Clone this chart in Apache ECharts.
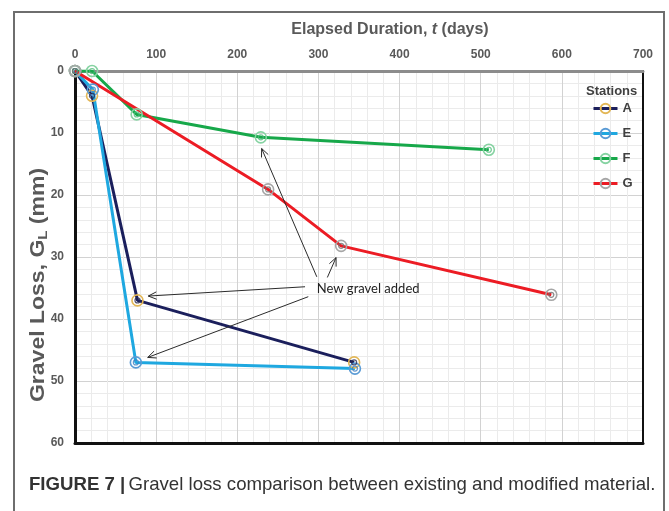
<!DOCTYPE html>
<html>
<head>
<meta charset="utf-8">
<script src="https://cdn.jsdelivr.net/npm/echarts@6/dist/echarts.min.js"></script>
<style>
  html, body { margin: 0; padding: 0; background: #fff; }
  #chart { width: 669px; height: 511px; }
</style>
</head>
<body>
<div id="chart"></div>
<script>
// Elapsed duration (days) and gravel loss (mm) per station
const stationNames = ['A', 'E', 'F', 'G'];
const daysA = [0, 21, 77, 344];
const lossA = [0, 4, 37, 47];
const daysE = [0, 22, 75, 345];
const lossE = [0, 3, 47, 48];
const daysF = [0, 21, 76, 229, 510];
const lossF = [0, 0, 7, 10.7, 12.7];
const daysG = [0, 238, 328, 587];
const lossG = [0, 19.1, 28.2, 36.1];

// Axis ticks
const xTicks = [0, 100, 200, 300, 400, 500, 600, 700];
const yTicks = [0, 10, 20, 30, 40, 50, 60];

// Annotation: points where new gravel was added (arrow start -> arrow tip), in data units
const noteText = 'New gravel added';
const noteAnchor = [298, 35.2];
const noteArrows = [
  [[298, 33.2], [230, 12.5]],
  [[311, 33.3], [321.7, 30.1]],
  [[283.5, 34.8], [90.3, 36.3]],
  [[287.5, 36.4], [89.6, 46.2]]
];

const lineColors = { A: '#1b1f5c', E: '#1fa8e0', F: '#17a84a', G: '#ec1c24' };
const ringOuter = { A: '#e3b756', E: '#5a9bd5', F: '#86d3a2', G: '#a6a6a6' };
const ringInner = { A: '#2a2a50', E: '#3f7fc0', F: '#4cba78', G: '#707070' };

function pairs(xs, ys) { return xs.map((x, i) => [x, ys[i]]); }
const stationData = {
  A: pairs(daysA, lossA),
  E: pairs(daysE, lossE),
  F: pairs(daysF, lossF),
  G: pairs(daysG, lossG)
};

const labelFont = { fontFamily: 'Liberation Sans', fontWeight: 'bold', fontSize: 12, color: '#595959' };

const series = [];
stationNames.forEach(function (name) {
  series.push({
    name: name,
    type: 'line',
    data: stationData[name],
    symbol: 'circle',
    symbolSize: 11,
    showSymbol: true,
    lineStyle: { color: lineColors[name], width: 3 },
    itemStyle: { color: 'rgba(255,255,255,0)', borderColor: ringOuter[name], borderWidth: 1.6 },
    emphasis: { disabled: true },
    z: 3
  });
  series.push({
    name: name,
    type: 'scatter',
    data: stationData[name],
    symbol: 'circle',
    symbolSize: 5,
    itemStyle: { color: 'rgba(255,255,255,0)', borderColor: ringInner[name], borderWidth: 1.2 },
    emphasis: { disabled: true },
    z: 4
  });
});

// Annotation text placed in data units
series.push({
  type: 'scatter',
  data: [],
  silent: true,
  markPoint: {
    silent: true,
    animation: false,
    symbol: 'circle',
    symbolSize: 0,
    data: [{ coord: noteAnchor }],
    label: {
      show: true,
      position: 'right',
      distance: 0,
      formatter: noteText,
      fontFamily: 'Lato',
      fontSize: 13,
      color: '#222'
    }
  }
});

const chart = echarts.init(document.getElementById('chart'), null, { renderer: 'canvas' });
chart.setOption({
  animation: false,
  backgroundColor: '#fff',
  grid: { left: 75, right: 26, top: 71, bottom: 68, containLabel: false },
  legend: {
    orient: 'vertical',
    left: 587,
    top: 97,
    itemWidth: 24,
    itemHeight: 12,
    itemGap: 12,
    selectedMode: false,
    data: stationNames,
    lineStyle: { width: 3 },
    textStyle: { fontFamily: 'Liberation Sans', fontWeight: 'bold', fontSize: 13, color: '#404040' }
  },
  xAxis: [
    {
      type: 'value', position: 'top', min: 0, max: 700, interval: 100,
      name: '{b|Elapsed Duration, }{i|t}{b| (days)}',
      nameLocation: 'middle', nameGap: 33,
      nameTextStyle: {
        padding: [0, 0, 0, 62],
        rich: {
          b: { fontFamily: 'Liberation Sans', fontWeight: 'bold', fontSize: 16, color: '#595959' },
          i: { fontFamily: 'Liberation Sans', fontWeight: 'bold', fontStyle: 'italic', fontSize: 16, color: '#595959' }
        }
      },
      axisLine: { onZero: false, lineStyle: { color: '#8c8c8c', width: 3 } },
      axisTick: { show: false },
      axisLabel: Object.assign({ margin: 10, formatter: function (v) { return xTicks.indexOf(v) >= 0 ? String(v) : ''; } }, labelFont),
      splitLine: { show: true, lineStyle: { color: '#d2d2d2', width: 1 } },
      minorTick: { show: false, splitNumber: 5 },
      minorSplitLine: { show: true, lineStyle: { color: '#ebebeb', width: 1 } }
    },
    {
      type: 'value', position: 'bottom', min: 0, max: 700, interval: 100,
      axisLine: { onZero: false, lineStyle: { color: '#111', width: 3 } },
      axisTick: { show: false },
      axisLabel: { show: false },
      splitLine: { show: false }
    }
  ],
  yAxis: [
    {
      type: 'value', inverse: true, min: 0, max: 60, interval: 10,
      axisLine: { onZero: false, lineStyle: { color: '#111', width: 3 } },
      axisTick: { show: false },
      axisLabel: Object.assign({ margin: 11, formatter: function (v) { return yTicks.indexOf(v) >= 0 ? String(v) : ''; } }, labelFont),
      splitLine: { show: true, lineStyle: { color: '#d2d2d2', width: 1 } },
      minorTick: { show: false, splitNumber: 5 },
      minorSplitLine: { show: true, lineStyle: { color: '#ebebeb', width: 1 } }
    },
    {
      type: 'value', position: 'right', inverse: true, min: 0, max: 60, interval: 10,
      axisLine: { onZero: false, lineStyle: { color: '#111', width: 2 } },
      axisTick: { show: false },
      axisLabel: { show: false },
      splitLine: { show: false }
    }
  ],
  series: series
});

// Arrows from the note to the marked points, converted through the axes
function arrowGraphics() {
  const out = [];
  noteArrows.forEach(function (a) {
    const p1 = chart.convertToPixel({ xAxisIndex: 0, yAxisIndex: 0 }, a[0]);
    const p2 = chart.convertToPixel({ xAxisIndex: 0, yAxisIndex: 0 }, a[1]);
    const dx = p2[0] - p1[0], dy = p2[1] - p1[1];
    const len = Math.sqrt(dx * dx + dy * dy);
    const ux = dx / len, uy = dy / len;
    const headLen = 9, ang = 0.42;
    const c = Math.cos(ang), s = Math.sin(ang);
    const h1 = [p2[0] - headLen * (ux * c - uy * s), p2[1] - headLen * (uy * c + ux * s)];
    const h2 = [p2[0] - headLen * (ux * c + uy * s), p2[1] - headLen * (uy * c - ux * s)];
    out.push({
      type: 'line', silent: true, z: 20,
      shape: { x1: p1[0], y1: p1[1], x2: p2[0], y2: p2[1] },
      style: { stroke: '#2b2b2b', lineWidth: 1 }
    });
    out.push({
      type: 'polyline', silent: true, z: 20,
      shape: { points: [h1, p2, h2] },
      style: { stroke: '#2b2b2b', lineWidth: 1, fill: null }
    });
  });
  return out;
}

chart.setOption({
  graphic: [
    {
      type: 'rect',
      shape: { x: 14, y: 12, width: 650, height: 520 },
      style: { fill: 'none', stroke: '#6e6e6e', lineWidth: 2 },
      silent: true, z: 0
    },
    {
      type: 'text',
      x: 38, y: 285,
      rotation: Math.PI / 2,
      scaleX: 1.15,
      silent: true, z: 10,
      style: {
        text: '{b|Gravel Loss, G}{s|L}{b| (mm)}',
        align: 'center',
        verticalAlign: 'middle',
        rich: {
          b: { fontFamily: 'Liberation Sans', fontWeight: 'bold', fontSize: 20, fill: '#595959' },
          s: { fontFamily: 'Liberation Sans', fontWeight: 'bold', fontSize: 13, fill: '#595959', padding: [10, 0, 0, 0] }
        }
      }
    },
    {
      type: 'text',
      left: 586, top: 85,
      silent: true, z: 10,
      style: { text: 'Stations', font: 'bold 13px "Liberation Sans"', fill: '#404040' }
    },
    {
      type: 'text',
      x: 29, y: 485,
      scaleX: 0.98,
      silent: true, z: 10,
      style: {
        text: '{b|FIGURE 7 |} {n|Gravel loss comparison between existing and modified material.}',
        verticalAlign: 'middle',
        rich: {
          b: { fontFamily: 'Liberation Sans', fontWeight: 'bold', fontSize: 19, fill: '#333' },
          n: { fontFamily: 'Liberation Sans', fontSize: 19, fill: '#333' }
        }
      }
    }
  ].concat(arrowGraphics())
});
</script>
</body>
</html>
